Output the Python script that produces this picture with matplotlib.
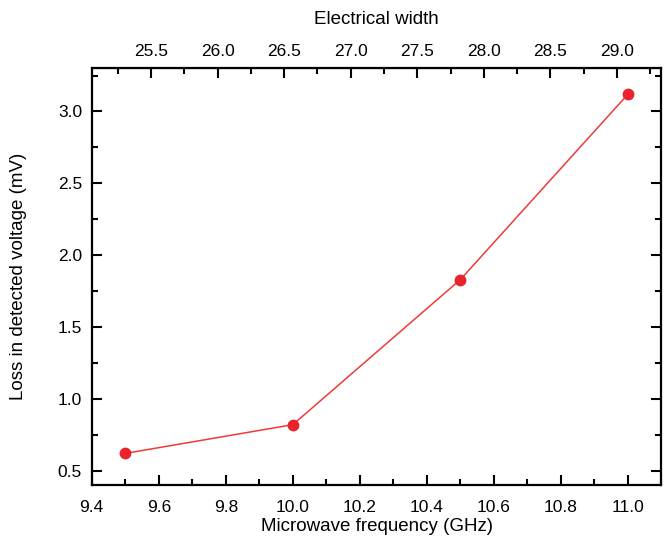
import matplotlib.pyplot as plt
from matplotlib.ticker import MultipleLocator

plt.rcParams['font.family'] = ['Liberation Sans', 'DejaVu Sans']

# data
freq = [9.5, 10.0, 10.5, 11.0]          # GHz
loss = [0.62, 0.82, 1.83, 3.12]         # mV

# electrical width <-> frequency (linear)
ew_ref = 25.5
f_ref = 9.577
slope = 2.518

def f2ew(f):
    return ew_ref + (f - f_ref) * slope

def ew2f(e):
    return f_ref + (e - ew_ref) / slope

fig = plt.figure(figsize=(6.7, 5.47), dpi=100)
ax = fig.add_axes([0.1369, 0.1133, 0.8504, 0.7618])

ax.plot(freq, loss, color='#f03a36', lw=1.1, marker='o', ms=7.5,
        mfc='#e8232b', mec='#e8232b')

ax.set_xlim(9.4, 11.1)
ax.set_ylim(0.4, 3.3)
ax.xaxis.set_major_locator(MultipleLocator(0.2))
ax.xaxis.set_minor_locator(MultipleLocator(0.1))
ax.yaxis.set_major_locator(MultipleLocator(0.5))
ax.yaxis.set_minor_locator(MultipleLocator(0.25))
ax.tick_params(which='both', direction='in', top=False, right=True, width=1.5, labelsize=12.5)
ax.tick_params(which='major', length=7, pad=7)
ax.tick_params(axis='x', which='major', pad=11)
ax.tick_params(which='minor', length=4)
for s in ax.spines.values():
    s.set_linewidth(1.6)

ax.set_xlabel('Microwave frequency (GHz)', fontsize=13.5, labelpad=2)
ax.set_ylabel('Loss in detected voltage (mV)', fontsize=13.5, labelpad=22)

top = ax.secondary_xaxis('top', functions=(f2ew, ew2f))
top.set_xticks([25.5, 26.0, 26.5, 27.0, 27.5, 28.0, 28.5, 29.0])
top.xaxis.set_minor_locator(MultipleLocator(0.25))
top.tick_params(which='both', direction='in', width=1.5, labelsize=12.5)
top.tick_params(which='major', length=7, pad=7)
top.tick_params(which='minor', length=4)
top.set_xlabel('Electrical width', fontsize=13.5, labelpad=14)

fig.savefig('out.png', dpi=100)
